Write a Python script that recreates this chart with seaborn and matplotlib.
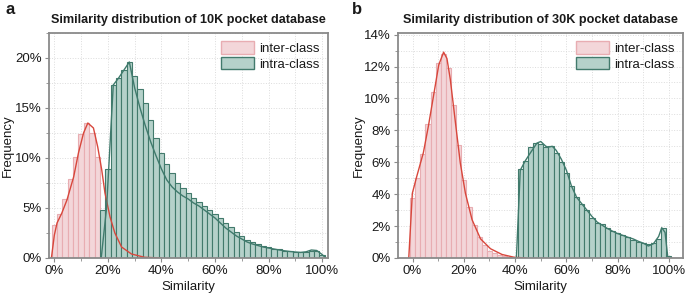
import matplotlib
matplotlib.use("Agg")
import matplotlib.pyplot as plt
import numpy as np
import pandas as pd
import seaborn as sns
from matplotlib.ticker import MultipleLocator, PercentFormatter
from matplotlib.patches import Patch

# ---------------------------------------------------------------------------
#   Data (percent of pairs per 2 % similarity bin)
# ---------------------------------------------------------------------------
# panel a : 10K pocket database
a_inter_centers = [0, 2, 4, 6, 8, 10, 12, 14, 16]
a_inter_freq = [3.3, 4.4, 5.9, 7.9, 10.1, 12.4, 13.5, 12.5, 10.1]

a_intra_centers = list(range(18, 101, 2))
a_intra_freq = [4.8, 8.9, 17.3, 18.0, 18.8, 19.6, 18.2, 16.9, 15.5, 13.8,
                12.0, 10.5, 9.4, 8.5, 7.5, 7.0, 6.5, 6.0, 5.6, 5.2,
                4.8, 4.4, 4.0, 3.5, 3.1, 2.6, 2.2, 1.8, 1.55, 1.35,
                1.2, 1.07, 0.95, 0.85, 0.75, 0.67, 0.6, 0.55, 0.6, 0.75,
                0.75, 0.3]

a_inter_kde_x = [-1.1, 0, 1, 2.8, 4.7, 7.2, 9, 10.9, 12.5, 14.6, 16.2, 17.7,
                 18.9, 20.8, 22.6, 25.1, 28.8, 33.7, 40]
a_inter_kde_y = [0, 2.3, 3.5, 4.5, 5.8, 8.1, 10.5, 12.5, 13.5, 13.0, 11.1, 8.8,
                 6.5, 4.1, 2.5, 1.1, 0.4, 0.07, 0]

a_intra_kde_x = [17.5, 19.5, 22, 24, 26, 28, 30, 32, 34, 36, 38, 40, 42, 44,
                 46, 48, 50, 52, 54, 56, 58, 60, 62, 64, 66, 68, 70, 72, 74,
                 76, 78, 80, 82, 84, 86, 88, 90, 92, 94, 96, 98, 100, 101]
a_intra_kde_y = [0, 5, 17.3, 18, 18.8, 19.6, 17.0, 15.0, 13.2, 11.6, 10.2, 8.9,
                 7.8, 7.1, 6.6, 6.2, 5.9, 5.5, 5.2, 4.8, 4.4, 4.0, 3.5, 3.0,
                 2.6, 2.2, 1.9, 1.6, 1.4, 1.25, 1.1, 1.0, 0.9, 0.8, 0.72,
                 0.65, 0.6, 0.56, 0.62, 0.8, 0.75, 0.35, 0.1]

# panel b : 30K pocket database
b_inter_centers = list(range(0, 39, 2))
b_inter_freq = [3.75, 5.0, 6.5, 8.4, 10.4, 12.2, 12.8, 11.9, 9.6, 7.1,
                4.9, 3.2, 2.06, 1.3, 0.8, 0.47, 0.3, 0.2, 0.1, 0.05]

b_intra_centers = list(range(42, 101, 2))
b_intra_freq = [5.6, 6.1, 6.95, 7.2, 7.15, 6.95, 7.05, 6.6, 6.0, 5.3,
                4.5, 3.85, 3.4, 3.0, 2.5, 2.2, 2.1, 1.9, 1.7, 1.57,
                1.42, 1.3, 1.15, 1.0, 0.93, 0.85, 0.93, 1.2, 1.9, 0.15]

b_inter_kde_x = [-1.5, -0.1, 1.6, 4.2, 6.2, 8.2, 10.2, 12.1, 13.4, 14.7, 16.7,
                 18.6, 20.6, 23.2, 26.5, 30.4, 34.9, 39.5, 44]
b_inter_kde_y = [0, 4.06, 5.1, 6.6, 8.3, 10.2, 12.1, 12.9, 12.5, 11.2, 8.5,
                 5.96, 4.06, 2.4, 1.2, 0.58, 0.22, 0.05, 0]

b_intra_kde_x = [40.5, 42, 44, 46, 48.5, 50, 52, 53, 54.5, 56, 58, 60, 62, 64,
                 66, 68, 70, 72, 74, 76, 78, 80, 82, 84, 86, 88, 90, 92, 94,
                 96, 97.2, 98.5, 99.5]
b_intra_kde_y = [0, 5.5, 6.1, 6.6, 7.2, 7.3, 7.0, 6.95, 7.0, 6.75, 6.2, 5.5,
                 4.5, 3.8, 3.4, 3.0, 2.6, 2.25, 2.05, 1.85, 1.68, 1.53, 1.42,
                 1.3, 1.2, 1.05, 0.93, 0.75, 0.9, 1.35, 1.9, 1.6, 0.15]

titles = ["Similarity distribution of 10K pocket database",
          "Similarity distribution of 30K pocket database"]
panel_labels = ["a", "b"]
legend_labels = ["inter-class", "intra-class"]

# ---------------------------------------------------------------------------
#   Style
# ---------------------------------------------------------------------------
sns.set_style("white")
plt.rcParams["font.family"] = ["Liberation Sans", "DejaVu Sans"]
plt.rcParams["font.size"] = 9
plt.rcParams["text.color"] = "#1a1a1a"
plt.rcParams["xtick.labelcolor"] = "#1a1a1a"
plt.rcParams["ytick.labelcolor"] = "#1a1a1a"
plt.rcParams["axes.labelcolor"] = "#1a1a1a"

PINK_FILL, PINK_EDGE = "#f3d6d9", "#e8adb2"
GREEN_FILL, GREEN_EDGE = "#b5d1ca", "#427a6c"
RED_LINE, GREEN_LINE = "#d8473c", "#3f7a6c"
SPINE = "#8a8a8a"


def edges_from(centers):
    c = np.asarray(centers, dtype=float)
    return list(np.append(c - 1, c[-1] + 1))


def draw_hist(ax, centers, freq, fill, edge):
    df = pd.DataFrame({"sim": centers, "freq": freq})
    sns.histplot(data=df, x="sim", weights="freq", bins=edges_from(centers),
                 ax=ax, color=fill, edgecolor=edge, linewidth=0.8, alpha=1)


def draw_kde(ax, xs, ys, color):
    df = pd.DataFrame({"sim": xs, "freq": ys})
    sns.lineplot(data=df, x="sim", y="freq", ax=ax, color=color, lw=1.0,
                 sort=False, estimator=None)


fig = plt.figure(figsize=(6.85, 2.97), dpi=100)
axes = [fig.add_axes([49 / 685, 39 / 297, 279 / 685, 225 / 297]),
        fig.add_axes([398 / 685, 39 / 297, 285 / 685, 225 / 297])]

panels = [
    dict(inter=(a_inter_centers, a_inter_freq), intra=(a_intra_centers, a_intra_freq),
         kde_inter=(a_inter_kde_x, a_inter_kde_y), kde_intra=(a_intra_kde_x, a_intra_kde_y),
         xlim=(-2, 102.2), ylim=(0, 22.5), ymaj=5, ymin=2.5, ylab_x=-0.147),
    dict(inter=(b_inter_centers, b_inter_freq), intra=(b_intra_centers, b_intra_freq),
         kde_inter=(b_inter_kde_x, b_inter_kde_y), kde_intra=(b_intra_kde_x, b_intra_kde_y),
         xlim=(-5.7, 105.5), ylim=(0, 14.1), ymaj=2, ymin=1, ylab_x=-0.137),
]

for i, (ax, p) in enumerate(zip(axes, panels)):
    draw_hist(ax, *p["inter"], PINK_FILL, PINK_EDGE)
    draw_hist(ax, *p["intra"], GREEN_FILL, GREEN_EDGE)
    draw_kde(ax, *p["kde_inter"], RED_LINE)
    draw_kde(ax, *p["kde_intra"], GREEN_LINE)

    ax.set_xlim(*p["xlim"])
    ax.set_ylim(*p["ylim"])
    ax.xaxis.set_major_locator(MultipleLocator(20))
    ax.xaxis.set_minor_locator(MultipleLocator(10))
    ax.yaxis.set_major_locator(MultipleLocator(p["ymaj"]))
    ax.yaxis.set_minor_locator(MultipleLocator(p["ymin"]))
    ax.xaxis.set_major_formatter(PercentFormatter(decimals=0))
    ax.yaxis.set_major_formatter(PercentFormatter(decimals=0))

    ax.grid(True, which="both", color="#dcdcdc", ls=":", lw=0.7)
    ax.set_axisbelow(True)
    for s in ax.spines.values():
        s.set_color(SPINE)
        s.set_linewidth(1.3)
    ax.tick_params(which="both", direction="out", color=SPINE, bottom=True, left=True)
    ax.tick_params(which="major", length=3, labelsize=9.5, pad=2)
    ax.tick_params(which="minor", length=2)

    ax.set_xlabel("Similarity", fontsize=9.5, va="top")
    ax.xaxis.set_label_coords(0.5, -0.103)
    ax.set_ylabel("Frequency", fontsize=9.5, va="center")
    ax.yaxis.set_label_coords(p["ylab_x"], 0.5)
    ax.set_title(titles[i], fontsize=9.1, fontweight="bold", pad=7)

    handles = [Patch(facecolor=PINK_FILL, edgecolor=PINK_EDGE),
               Patch(facecolor=GREEN_FILL, edgecolor=GREEN_EDGE)]
    ax.legend(handles, legend_labels, loc="upper right", frameon=False,
              fontsize=9.5, handlelength=2.5, handleheight=1.1,
              handletextpad=0.4, labelspacing=0.15, borderaxespad=0.2)

fig.text(5 / 685, 1 - 10 / 297, panel_labels[0], fontsize=12, fontweight="bold", va="center")
fig.text(352 / 685, 1 - 10 / 297, panel_labels[1], fontsize=12, fontweight="bold", va="center")

fig.savefig("out.png", dpi=100)
